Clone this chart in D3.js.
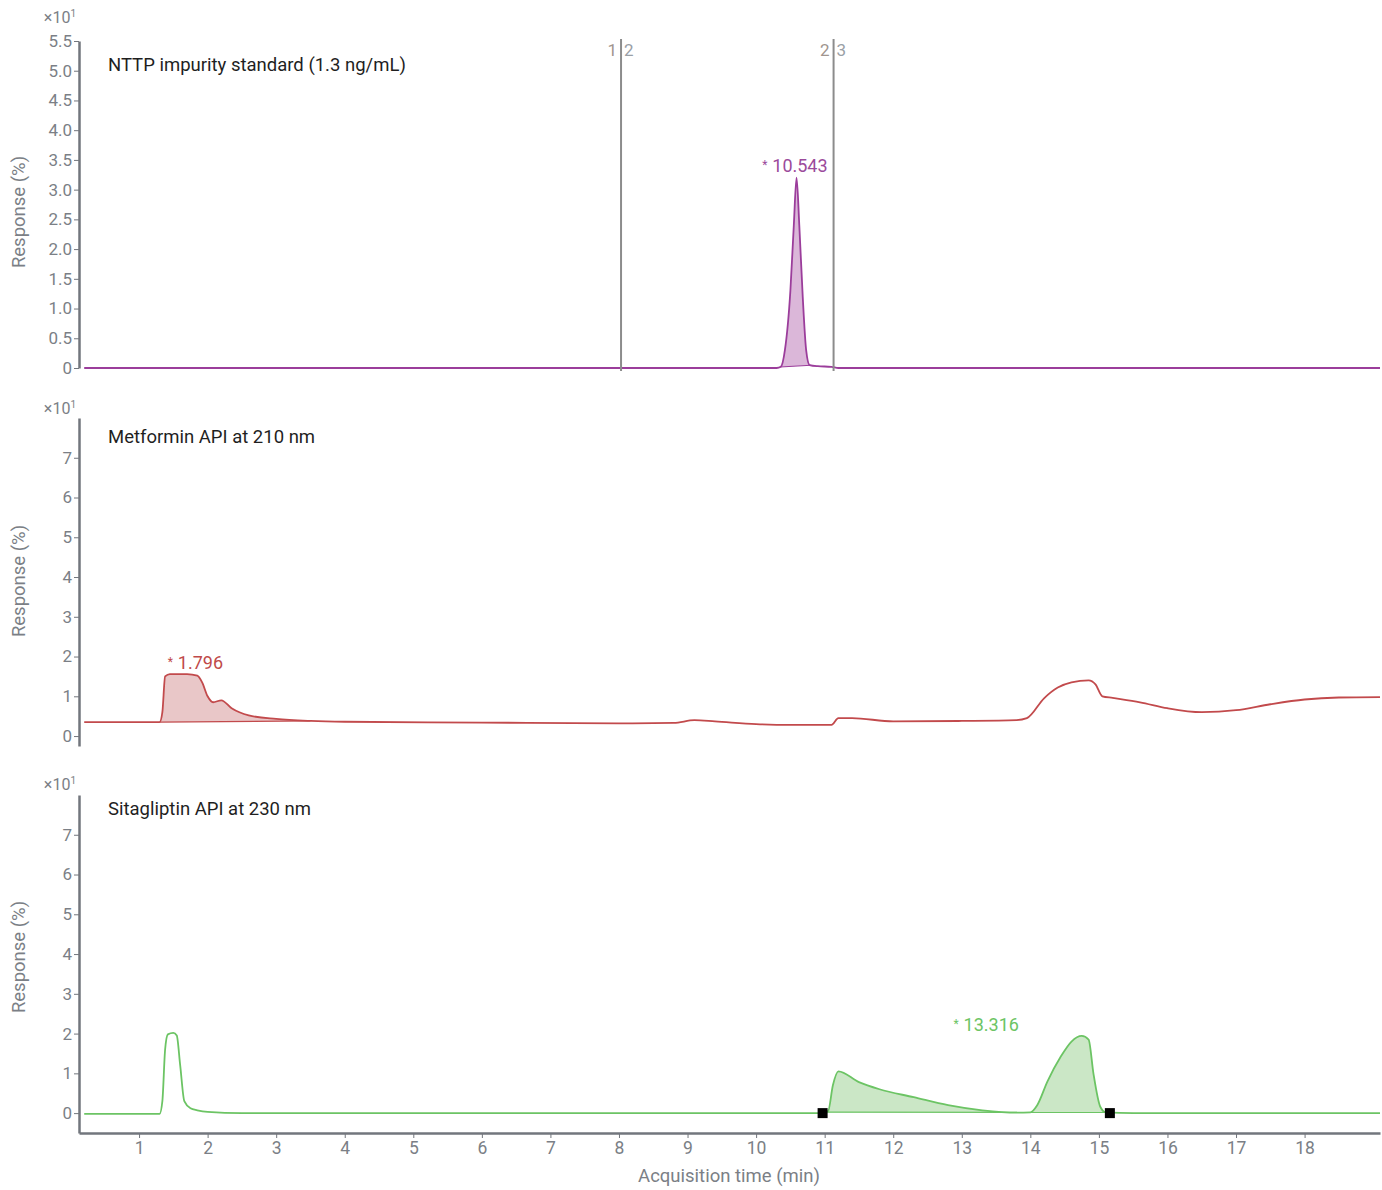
<!DOCTYPE html>
<html>
<head>
<meta charset="utf-8">
<script src="https://cdn.jsdelivr.net/npm/d3@7"></script>
<style>
  body { margin: 0; background: #fff; font-family: Roboto, "Noto Sans", sans-serif; }
  .tick text { fill: #7b7f86; font-size: 17px; font-family: Roboto, sans-serif; }
  .tick line, .domain { stroke: #72767d; }
</style>
</head>
<body>
<div id="chart"></div>
<script>
// chromatogram data, response in units of x10 %
var nttpTime = [0.2, 10.3, 10.36, 10.42, 10.5, 10.55, 10.59, 10.63, 10.68, 10.73, 10.78, 10.9, 11.1, 11.2, 19.1];
var nttpResp = [0, 0, 0.02, 0.3, 1.3, 2.4, 3.2, 2.4, 1.2, 0.3, 0.05, 0.03, 0.02, 0, 0];

var metTime = [0.2, 1.0, 1.3, 1.34, 1.38, 1.45, 1.7, 1.85, 1.92, 2.0, 2.08, 2.2, 2.35, 2.6, 3.0, 3.5, 4.0, 6.0, 8.0, 8.8, 9.1, 9.4, 10.0, 10.5, 11.1, 11.2, 11.4, 12.0, 13.0, 13.8, 13.95, 14.2, 14.4, 14.6, 14.85, 14.95, 15.05, 15.2, 15.6, 16.0, 16.5, 17.0, 17.5, 18.0, 18.5, 19.1];
var metResp = [0.35, 0.35, 0.35, 0.6, 1.5, 1.56, 1.56, 1.52, 1.35, 1.0, 0.85, 0.9, 0.7, 0.52, 0.43, 0.38, 0.36, 0.34, 0.32, 0.33, 0.4, 0.37, 0.3, 0.28, 0.28, 0.45, 0.45, 0.37, 0.38, 0.4, 0.45, 0.95, 1.22, 1.35, 1.4, 1.3, 1.0, 0.96, 0.85, 0.7, 0.6, 0.65, 0.8, 0.92, 0.97, 0.98];

var sitaTime = [0.2, 1.3, 1.34, 1.38, 1.42, 1.5, 1.55, 1.6, 1.66, 1.75, 1.85, 2.0, 2.5, 10.9, 11.05, 11.12, 11.2, 11.5, 11.8, 12.3, 12.8, 13.3, 13.8, 14.0, 14.1, 14.25, 14.44, 14.6, 14.75, 14.85, 14.92, 15.02, 15.1, 15.5, 19.1];
var sitaResp = [-0.02, -0.02, 0.3, 1.6, 1.98, 2.02, 1.95, 1.2, 0.3, 0.12, 0.07, 0.03, 0, 0, 0.05, 0.7, 1.05, 0.78, 0.6, 0.4, 0.2, 0.07, 0.01, 0.02, 0.2, 0.8, 1.41, 1.8, 1.94, 1.85, 1.0, 0.16, 0.02, 0, 0];

// integrated regions [start, end] per panel
var nttpFill = [10.35, 10.8];
var metFill = [1.3, 3.5];
var sitaFill = [10.97, 15.16];
var sitaMarks = [10.97, 15.16];

var panelTitles = ["NTTP impurity standard (1.3 ng/mL)", "Metformin API at 210 nm", "Sitagliptin API at 230 nm"];
var peakLabels = ["10.543", "1.796", "13.316"];
var peakLabelTime = [10.09, 1.42, 12.88];
var peakLabelResp = [3.3, 1.68, 2.06];

var markerTimes = [8.03, 11.13];
var markerLeft = ["1", "2"];
var markerRight = ["2", "3"];

var xTicks = [1, 2, 3, 4, 5, 6, 7, 8, 9, 10, 11, 12, 13, 14, 15, 16, 17, 18];
var topTicks = [0, 0.5, 1, 1.5, 2, 2.5, 3, 3.5, 4, 4.5, 5, 5.5];
var lowTicks = [0, 1, 2, 3, 4, 5, 6, 7];

const W = 1382, H = 1190;
const left = 79, right = 1380;

var svg = d3.select("#chart").append("svg")
    .attr("width", W)
    .attr("height", H);

var x = d3.scaleLinear().domain([0.124, 19.1]).range([left, right]);

var panels = [
  { time: nttpTime, resp: nttpResp, fill: nttpFill, domain: [0, 5.5], range: [368, 41], ticks: topTicks,
    line: "#9b3d9b", area: "#dbb7d9", label: "#9b4a9b", mult: 17, titleY: 71, ylabY: 212 },
  { time: metTime, resp: metResp, fill: metFill, domain: [-0.25, 8], range: [746, 418], ticks: lowTicks,
    line: "#c24a4c", area: "#e9c7c8", label: "#c04a4a", mult: 408, titleY: 443, ylabY: 581 },
  { time: sitaTime, resp: sitaResp, fill: sitaFill, domain: [-0.5, 8], range: [1133, 795], ticks: lowTicks,
    line: "#6cc464", area: "#cbe7c6", label: "#6cc464", mult: 784, titleY: 815, ylabY: 957 }
];

panels.forEach(function(p, i) {
  var y = d3.scaleLinear().domain(p.domain).range(p.range);
  var pts = p.time.map((t, k) => ({t: t, v: p.resp[k]}));
  var g = svg.append("g");

  // fill for integrated peak, baseline drawn straight between its ends
  var interp = function(t) {
    for (let k = 1; k < pts.length; k++) {
      if (t <= pts[k].t) {
        var a = pts[k - 1], b = pts[k];
        return a.v + (b.v - a.v) * (t - a.t) / (b.t - a.t);
      }
    }
    return pts[pts.length - 1].v;
  };
  var f0 = p.fill[0], f1 = p.fill[1];
  var b0 = interp(f0), b1 = interp(f1);
  var fillPts = [{t: f0, v: b0}].concat(pts.filter(d => d.t > f0 && d.t < f1)).concat([{t: f1, v: b1}]);
  var base = t => b0 + (b1 - b0) * (t - f0) / (f1 - f0);
  g.append("path")
    .datum(fillPts)
    .attr("d", d3.area()
      .x(d => x(d.t))
      .y0(d => y(base(d.t)))
      .y1(d => y(Math.max(d.v, base(d.t))))
      .curve(d3.curveMonotoneX))
    .attr("fill", p.area);
  g.append("line")
    .attr("x1", x(f0)).attr("x2", x(f1))
    .attr("y1", y(b0)).attr("y2", y(b1))
    .attr("stroke", p.line).attr("stroke-width", 1.2);

  g.append("path")
    .datum(pts)
    .attr("d", d3.line().x(d => x(d.t)).y(d => y(d.v)).curve(d3.curveMonotoneX))
    .attr("fill", "none")
    .attr("stroke", p.line)
    .attr("stroke-width", 1.8);

  // y axis
  var fmt = i === 0 ? (d => d === 0 ? "0" : d3.format(".1f")(d)) : d3.format("d");
  var ax = svg.append("g")
    .attr("transform", "translate(" + left + ",0)")
    .call(d3.axisLeft(y).tickValues(p.ticks).tickFormat(fmt).tickSize(5).tickSizeOuter(0).tickPadding(2));
  ax.select(".domain").attr("stroke-width", 2.5);

  svg.append("text")
    .attr("x", 76).attr("y", p.mult + 6)
    .attr("text-anchor", "end")
    .attr("fill", "#7b7f86")
    .style("font-size", "16px")
    .html("×10<tspan dy='-6' font-size='10'>1</tspan>");

  svg.append("text")
    .attr("transform", "translate(25," + p.ylabY + ") rotate(-90)")
    .attr("text-anchor", "middle")
    .attr("fill", "#7b7f86")
    .style("font-size", "18.5px")
    .text("Response (%)");

  svg.append("text")
    .attr("x", 108).attr("y", p.titleY)
    .attr("fill", "#1f1f1f")
    .style("font-size", "18.5px")
    .text(panelTitles[i]);

  // peak label
  var lx = x(peakLabelTime[i]), ly = y(peakLabelResp[i]);
  svg.append("text")
    .attr("x", lx).attr("y", ly - 3)
    .attr("fill", p.label)
    .style("font-size", "12px")
    .text("*");
  svg.append("text")
    .attr("x", lx + 10).attr("y", ly)
    .attr("fill", p.label)
    .style("font-size", "18px")
    .text(peakLabels[i]);

  if (i === 2) {
    svg.selectAll(".mark")
      .data(sitaMarks)
      .enter()
      .append("rect")
      .attr("x", d => x(d) - 5)
      .attr("y", y(0) - 5)
      .attr("width", 10)
      .attr("height", 10)
      .attr("fill", "#000");
  }
});

// vertical time markers in top panel
markerTimes.forEach(function(t, k) {
  svg.append("line")
    .attr("x1", x(t)).attr("x2", x(t))
    .attr("y1", 39).attr("y2", 371)
    .attr("stroke", "#8c8c8c")
    .attr("stroke-width", 2);
  svg.append("text")
    .attr("x", x(t) - 4).attr("y", 56)
    .attr("text-anchor", "end")
    .attr("fill", "#a0958e")
    .style("font-size", "17px")
    .text(markerLeft[k]);
  svg.append("text")
    .attr("x", x(t) + 3).attr("y", 56)
    .attr("fill", "#9aa0a6")
    .style("font-size", "17px")
    .text(markerRight[k]);
});

// x axis
var xa = svg.append("g")
  .attr("transform", "translate(0,1133)")
  .call(d3.axisBottom(x).tickValues(xTicks).tickFormat(d3.format("d")).tickSize(5).tickSizeOuter(0).tickPadding(4));
xa.select(".domain").attr("stroke-width", 2.5);
xa.selectAll(".tick text").style("font-size", "17.5px");

svg.append("text")
  .attr("x", 729).attr("y", 1182)
  .attr("text-anchor", "middle")
  .attr("fill", "#7b7f86")
  .style("font-size", "18.5px")
  .text("Acquisition time (min)");
</script>
</body>
</html>
